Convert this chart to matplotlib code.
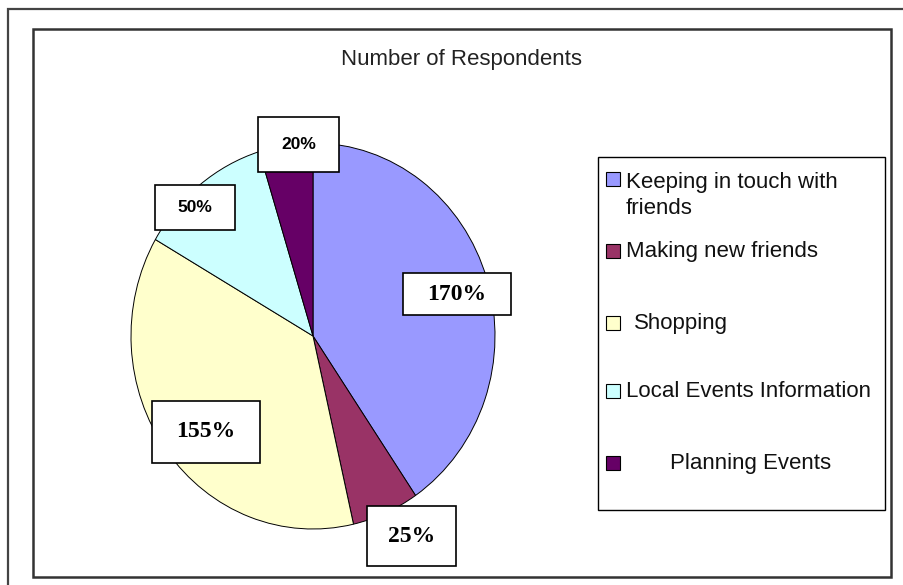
import matplotlib.pyplot as plt
from matplotlib.patches import Rectangle
import numpy as np

categories = ["Keeping in touch with\nfriends", "Making new friends", "Shopping",
              "Local Events Information", "Planning Events"]
respondents = [170, 25, 155, 50, 20]
colors = ["#9999FF", "#993366", "#FFFFCC", "#CCFFFF", "#660066"]
title = "Number of Respondents"

W, H = 904, 585
fig = plt.figure(figsize=(W / 100, H / 100), dpi=100)
fig.patch.set_facecolor("white")


def box(x0, y0, x1, y1, **kw):
    # rectangle given in image pixels (y down)
    r = Rectangle((x0 / W, 1 - y1 / H), (x1 - x0) / W, (y1 - y0) / H,
                  transform=fig.transFigure, clip_on=False, **kw)
    fig.add_artist(r)
    return r


# outer and inner frames (behind the pie axes)
box(8, 9, 930, 610, facecolor="white", edgecolor="#444444", linewidth=1.6, zorder=-3)
box(33, 29, 891, 577, facecolor="white", edgecolor="#333333", linewidth=1.8, zorder=-2)

fig.text(462 / W, 1 - 60 / H, title, ha="center", va="center",
         fontsize=16, family="Liberation Sans", color="#222222")

# pie
ax = fig.add_axes([131 / W, 1 - 529 / H, 364 / W, 386 / H])
wedges, _ = ax.pie(respondents, colors=colors, startangle=90, counterclock=False,
                   wedgeprops=dict(edgecolor="black", linewidth=0.7))
ax.set_aspect("auto")
ax.set_xlim(-1, 1)
ax.set_ylim(-1, 1)
ax.axis("off")

# data label boxes
lab_r = [0.82, 1.17, 0.77, 0.93, 0.995]
lab_nudge = [-1.8, 4.0, 3.7, 5.7, -4.0]
lab_size = [(108, 42), (89, 60), (108, 62), (80, 45), (81, 55)]
serif = [True, True, True, False, False]

for w, v, r, nd, (bw, bh), sf in zip(wedges, respondents, lab_r, lab_nudge, lab_size, serif):
    ang = np.deg2rad((w.theta1 + w.theta2) / 2 + nd)
    cx, cy = ax.transData.transform((r * np.cos(ang), r * np.sin(ang)))
    iy = H - cy
    box(cx - bw / 2, iy - bh / 2, cx + bw / 2, iy + bh / 2,
        facecolor="white", edgecolor="black", linewidth=1.2, zorder=5)
    if sf:
        fig.text(cx / W, cy / H, f"{v}%", ha="center", va="center", fontsize=17,
                 family="Liberation Serif", weight="bold", zorder=6)
    else:
        fig.text(cx / W, cy / H, f"{v}%", ha="center", va="center", fontsize=12.5,
                 family=["Liberation Sans Narrow", "Liberation Sans"], weight="bold",
                 zorder=6)

# legend
box(598, 157, 885, 510, facecolor="white", edgecolor="black", linewidth=1.0, zorder=-1)
leg_y = [179, 251, 323, 391, 463]
leg_indent = [0, 0, 8, 0, 44]
line_px = 1.3 * 16 * 100 / 72
for lab, c, y, ind in zip(categories, colors, leg_y, leg_indent):
    box(606, y - 7, 620, y + 7, facecolor=c, edgecolor="black", linewidth=0.8)
    extra = lab.count("\n") * line_px
    fig.text((626 + ind) / W, 1 - (y + 6 + extra) / H, lab, ha="left", va="baseline",
             fontsize=16, family="Liberation Sans", linespacing=1.3, color="#111111")

fig.savefig("out.png", dpi=100)
